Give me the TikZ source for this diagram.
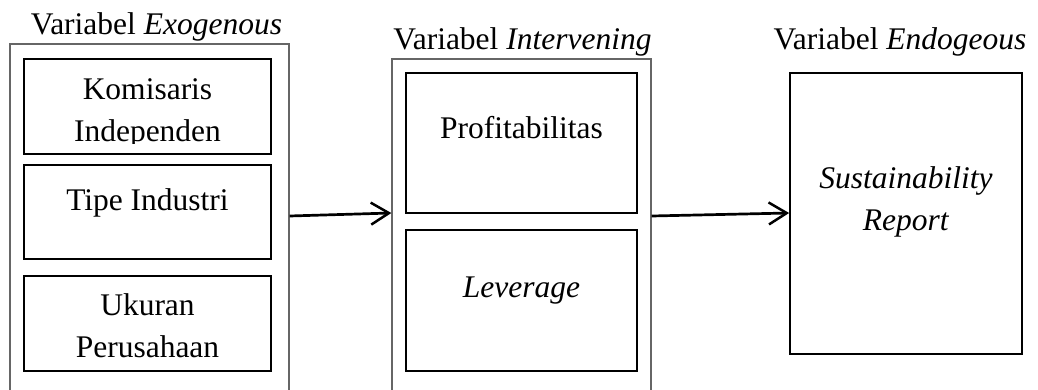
\documentclass[tikz,border=0pt]{standalone}
\usepackage{fontspec}
\setmainfont{Liberation Serif}
\usetikzlibrary{arrows.meta}

\tikzset{
  groupbox/.style={draw=black!60, line width=1.3pt, inner sep=0pt},
  varbox/.style={draw=black, line width=1.7pt, inner sep=0pt},
  % for a multi-line label the base anchor sits on the last line
  lbl/.style={anchor=base, inner sep=0pt, align=center,
    font=\fontsize{31.5}{41.5}\selectfont},
  flow/.style={line width=2.7pt, -{Straight Barb[length=18pt, width=22pt, line width=2.5pt]}}
}

\begin{document}
\begin{tikzpicture}[x=1pt, y=-1pt]
\useasboundingbox (0,0) rectangle (1038,390);

% group titles
\node[lbl] (t1) at (156.5,35) {Variabel \textit{Exogenous}};
\node[lbl] (t2) at (522.5,50) {Variabel \textit{Intervening}};
\node[lbl] (t3) at (900,50) {Variabel \textit{Endogeous}};

% exogenous group
\node[groupbox, minimum width=279pt, minimum height=356pt] (exo) at (149.5,222) {};
\node[varbox, minimum width=247pt, minimum height=95pt] (k1) at (147.5,106.5) {};
\node[varbox, minimum width=247pt, minimum height=94pt] (k2) at (147.5,212) {};
\node[varbox, minimum width=247pt, minimum height=95pt] (k3) at (147.5,323.5) {};
\begin{scope}
  \clip (24,59) rectangle (271,143.3);
  \node[lbl] (k1t) at (147.5,141.5) {Komisaris\\Independen};
\end{scope}
\node[lbl] (k2t) at (147.5,211) {Tipe Industri};
\node[lbl] (k3t) at (147.5,357) {Ukuran\\Perusahaan};

% intervening group
\node[groupbox, minimum width=259pt, minimum height=341pt] (mid) at (521.5,229.5) {};
\node[varbox, minimum width=231pt, minimum height=140pt] (p1) at (521.5,143) {};
\node[varbox, minimum width=231pt, minimum height=141pt] (p2) at (521.5,300.5) {};
\node[lbl] (p1t) at (521.5,139) {Profitabilitas};
\node[lbl] (p2t) at (521.5,297) {\textit{Leverage}};

% endogenous variable
\node[varbox, minimum width=232pt, minimum height=281pt] (sr) at (906,213.5) {};
\node[lbl] (srt) at (906,230) {\textit{Sustainability}\\\textit{Report}};

% flows
\draw[flow] (exo.east |- 0,216) -- (mid.west |- 0,213);
\draw[flow] (mid.east |- 0,216) -- (sr.west |- 0,213);
\end{tikzpicture}
\end{document}
